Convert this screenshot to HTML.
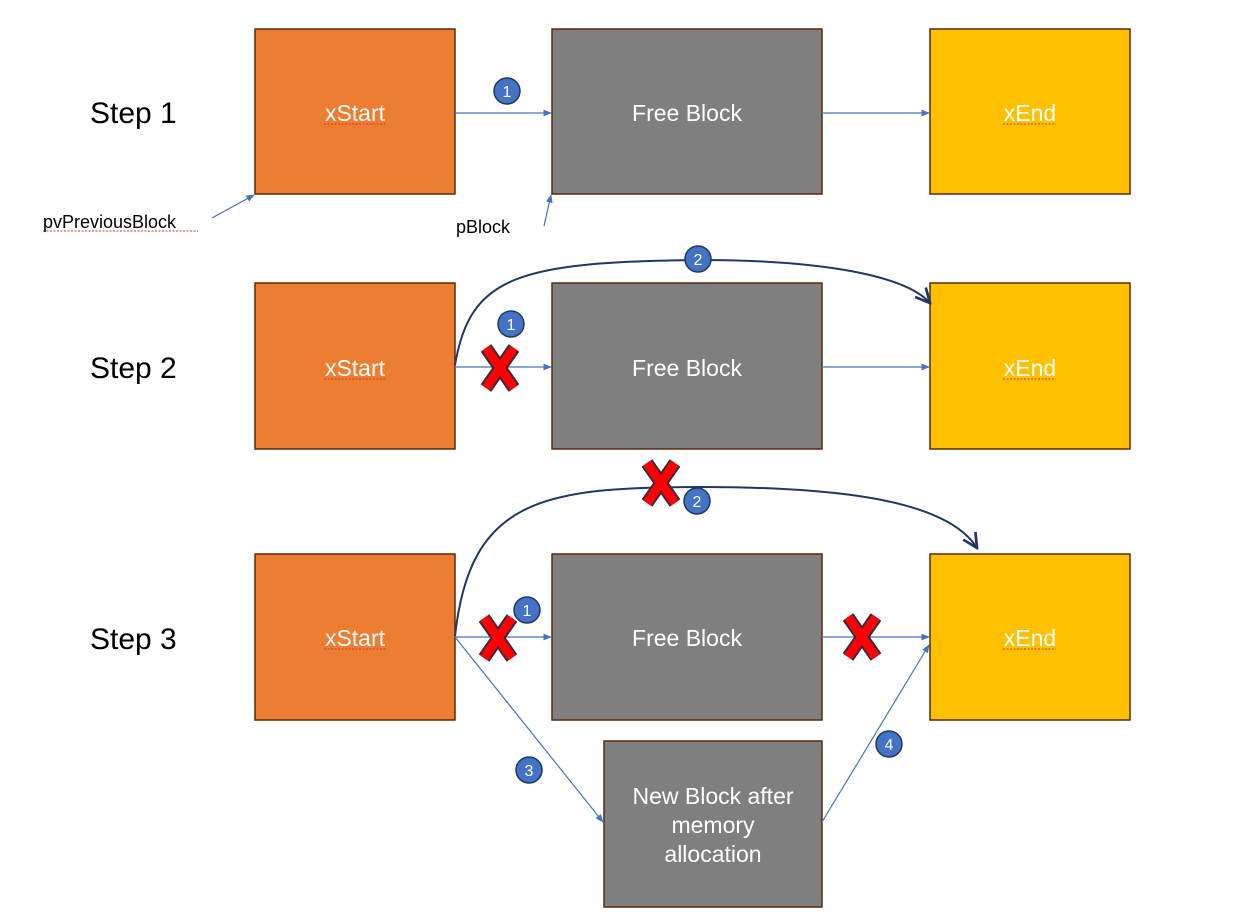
<!DOCTYPE html>
<html><head><meta charset="utf-8"><style>
html,body{margin:0;padding:0;background:#fff;}
svg{display:block;font-family:"Liberation Sans","Noto Sans CJK KR",sans-serif;}
</style></head><body>
<svg width="1234" height="916" viewBox="0 0 1234 916">
<defs>
<marker id="ab" viewBox="0 0 10 10" refX="9" refY="5" markerWidth="7" markerHeight="7" orient="auto"><path d="M0,1 L10,5 L0,9 z" fill="#4472C4"/></marker>
<marker id="an" viewBox="0 0 10 10" refX="9" refY="5" markerWidth="9" markerHeight="9" orient="auto"><path d="M1,1 L9,5 L1,9" fill="none" stroke="#1F3864" stroke-width="1.5"/></marker>
</defs>
<g font-size="30" fill="#000">
<text x="90" y="123">Step 1</text>
<text x="90" y="378">Step 2</text>
<text x="90" y="649">Step 3</text>
</g>
<g stroke="#5A2A0C" stroke-width="1.5">
<rect x="255" y="29" width="200" height="165" fill="#ED7D31"/>
<rect x="552" y="29" width="270" height="165" fill="#7F7F7F"/>
<rect x="930" y="29" width="200" height="165" fill="#FFC000"/>
<rect x="255" y="283" width="200" height="166" fill="#ED7D31"/>
<rect x="552" y="283" width="270" height="166" fill="#7F7F7F"/>
<rect x="930" y="283" width="200" height="166" fill="#FFC000"/>
<rect x="255" y="554" width="200" height="166" fill="#ED7D31"/>
<rect x="552" y="554" width="270" height="166" fill="#7F7F7F"/>
<rect x="930" y="554" width="200" height="166" fill="#FFC000"/>
<rect x="604" y="741" width="218" height="166" fill="#7F7F7F"/>
</g>
<g font-size="23" fill="#fff" text-anchor="middle">
<text x="355" y="121">xStart</text><text x="687" y="121">Free Block</text><text x="1030" y="121">xEnd</text>
<text x="355" y="376">xStart</text><text x="687" y="376">Free Block</text><text x="1030" y="376">xEnd</text>
<text x="355" y="646">xStart</text><text x="687" y="646">Free Block</text><text x="1030" y="646">xEnd</text>
<text x="713" y="804">New Block after</text><text x="713" y="833">memory</text><text x="713" y="862">allocation</text>
</g>
<g stroke="#E03030" stroke-width="1" stroke-dasharray="2,1.5">
<line x1="324" y1="124" x2="387" y2="124"/><line x1="1003" y1="124" x2="1056" y2="124"/>
<line x1="324" y1="379" x2="387" y2="379"/><line x1="1003" y1="379" x2="1056" y2="379"/>
<line x1="324" y1="649" x2="387" y2="649"/><line x1="1003" y1="649" x2="1056" y2="649"/>
<line x1="43" y1="231" x2="198" y2="231"/>
</g>
<text x="43" y="228" font-size="18">pvPreviousBlock</text>
<text x="456" y="233" font-size="18">pBlock</text>
<g stroke="#4472C4" stroke-width="1.2" fill="none" marker-end="url(#ab)">
<line x1="455" y1="113" x2="551" y2="113"/><line x1="822" y1="113" x2="929" y2="113"/>
<line x1="212" y1="218" x2="254" y2="195"/><line x1="544" y1="226" x2="551" y2="195"/>
<line x1="455" y1="367" x2="551" y2="367"/><line x1="822" y1="367" x2="929" y2="367"/>
<line x1="455" y1="637" x2="551" y2="637"/><line x1="822" y1="637" x2="929" y2="637"/>
<line x1="455" y1="637" x2="603" y2="822"/><line x1="822" y1="822" x2="929" y2="645"/>
</g>
<g stroke="#1F3864" stroke-width="2" fill="none" marker-end="url(#an)">
<path d="M455,365 C470,275 520,262 700,260 C820,260 905,275 930,303"/>
<path d="M455,636 C470,500 540,487 700,487 C860,487 950,505 977,548"/>
</g>
<g>
<g stroke="#3A2A40" stroke-width="13" stroke-linecap="butt">
<path d="M486,348 L514,388 M514,348 L486,388"/><path d="M647,463 L675,503 M675,463 L647,503"/>
<path d="M484,618 L512,658 M512,618 L484,658"/><path d="M848,617 L876,657 M876,617 L848,657"/>
</g>
<g stroke="#FF0000" stroke-width="9" stroke-linecap="butt">
<path d="M486,348 L514,388 M514,348 L486,388"/><path d="M647,463 L675,503 M675,463 L647,503"/>
<path d="M484,618 L512,658 M512,618 L484,658"/><path d="M848,617 L876,657 M876,617 L848,657"/>
</g>
</g>
<g font-size="16" text-anchor="middle">
<g fill="#4472C4" stroke="#1F3864" stroke-width="1.5">
<circle cx="507" cy="91" r="13"/><circle cx="511" cy="324" r="13"/><circle cx="698" cy="259" r="13"/>
<circle cx="697" cy="501" r="13"/><circle cx="527" cy="610" r="13"/><circle cx="529" cy="770" r="13"/><circle cx="889" cy="744" r="13"/>
</g>
<g fill="#fff">
<text x="507" y="97">1</text><text x="511" y="330">1</text><text x="698" y="265">2</text>
<text x="697" y="507">2</text><text x="527" y="616">1</text><text x="529" y="776">3</text><text x="889" y="750">4</text>
</g>
</g>
</svg>
</body></html>
